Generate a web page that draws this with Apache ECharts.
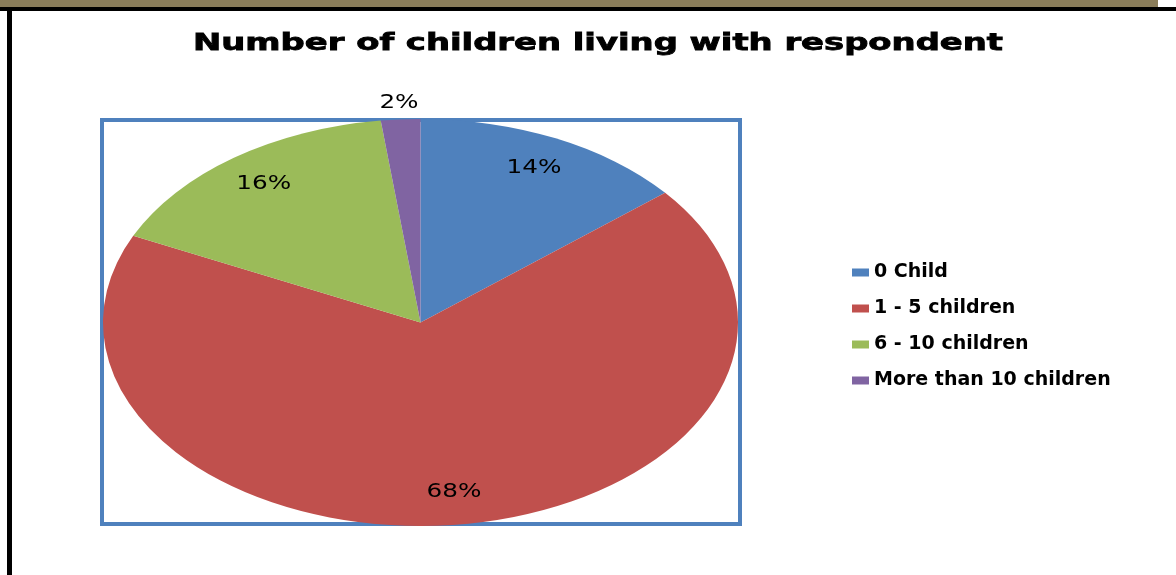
<!DOCTYPE html>
<html>
<head>
<meta charset="utf-8">
<script src="https://cdn.jsdelivr.net/npm/echarts@6/dist/echarts.min.js"></script>
<style>
html, body { margin: 0; padding: 0; background: #fff; }
#main { width: 1176px; height: 575px; }
</style>
</head>
<body>
<div id="main"></div>
<script>
// slices, clockwise from 12 o'clock
var categories = ['0 Child', '1 - 5 children', '6 - 10 children', 'More than 10 children']
var values = [14, 68, 16, 2]
var colors = ['#4F81BD', '#C0504D', '#9BBB59', '#8064A2']
var titleText = 'Number of children living with respondent'

var total = values.reduce(function (a, b) { return a + b }, 0)
var starts = []
var acc = 0
for (var i = 0; i < values.length; i++) {
  starts.push(acc)
  acc += values[i]
}

// the whole original is stretched sideways (pie and text)
var pieCx = 420.5
var pieCy = 322.5
var pieRx = 317.5
var pieRy = 203.5
var stretch = 1.3

// title is drawn stretched to the width it has in the original
var titleWidth = 810
var ctx = document.createElement('canvas').getContext('2d')
ctx.font = 'bold 23px "DejaVu Sans"'
var titleScale = titleWidth / ctx.measureText(titleText).width

function makeSlice (idx) {
  return {
    name: categories[idx],
    type: 'custom',
    coordinateSystem: 'none',
    itemStyle: { color: colors[idx] },
    data: [[values[idx]]],
    renderItem: function (params, api) {
      var v = api.value(0)
      var a0 = starts[idx] / total * Math.PI * 2
      var a1 = a0 + v / total * Math.PI * 2
      var mid = (a0 + a1) / 2
      var k = v / total < 0.05 ? 1.08 : 0.84
      return {
        type: 'group',
        children: [
          {
            type: 'sector',
            x: pieCx,
            y: pieCy,
            scaleX: pieRx / pieRy,
            shape: {
              cx: 0,
              cy: 0,
              r0: 0,
              r: pieRy,
              startAngle: a0 - Math.PI / 2,
              endAngle: a1 - Math.PI / 2,
              clockwise: true
            },
            style: { fill: colors[idx] }
          },
          {
            type: 'text',
            x: pieCx + pieRx * k * Math.sin(mid),
            y: pieCy - pieRy * k * Math.cos(mid),
            scaleX: stretch,
            z2: 10,
            style: {
              text: Math.round(v / total * 100) + '%',
              fill: '#000',
              fontFamily: 'DejaVu Sans',
              fontSize: 19,
              align: 'center',
              verticalAlign: 'middle'
            }
          }
        ]
      }
    }
  }
}

var chart = echarts.init(document.getElementById('main'))
chart.setOption({
  animation: false,
  color: colors,
  legend: {
    orient: 'vertical',
    left: 847,
    top: 258,
    icon: 'rect',
    itemWidth: 17,
    itemHeight: 8,
    itemGap: 17,
    data: categories,
    textStyle: {
      fontFamily: 'DejaVu Sans',
      fontSize: 19,
      fontWeight: 'bold',
      color: '#000'
    }
  },
  graphic: [
    { type: 'rect', z: 0, shape: { x: 0, y: 0, width: 1158, height: 7 }, style: { fill: '#8a7d5a' } },
    { type: 'rect', z: 0, shape: { x: 0, y: 7, width: 1176, height: 4 }, style: { fill: '#000' } },
    { type: 'rect', z: 0, shape: { x: 7, y: 7, width: 5, height: 568 }, style: { fill: '#000' } },
    {
      type: 'rect',
      z: 0,
      shape: { x: 102, y: 120, width: 638, height: 404 },
      style: { fill: null, stroke: '#4F81BD', lineWidth: 4 }
    },
    {
      type: 'text',
      z: 5,
      x: 598,
      y: 44,
      scaleX: titleScale,
      style: {
        text: titleText,
        fontFamily: 'DejaVu Sans',
        fontSize: 23,
        fontWeight: 'bold',
        fill: '#000',
        stroke: '#000',
        lineWidth: 0.8,
        align: 'center',
        verticalAlign: 'middle'
      }
    }
  ],
  series: categories.map(function (c, i) { return makeSlice(i) })
})
</script>
</body>
</html>
